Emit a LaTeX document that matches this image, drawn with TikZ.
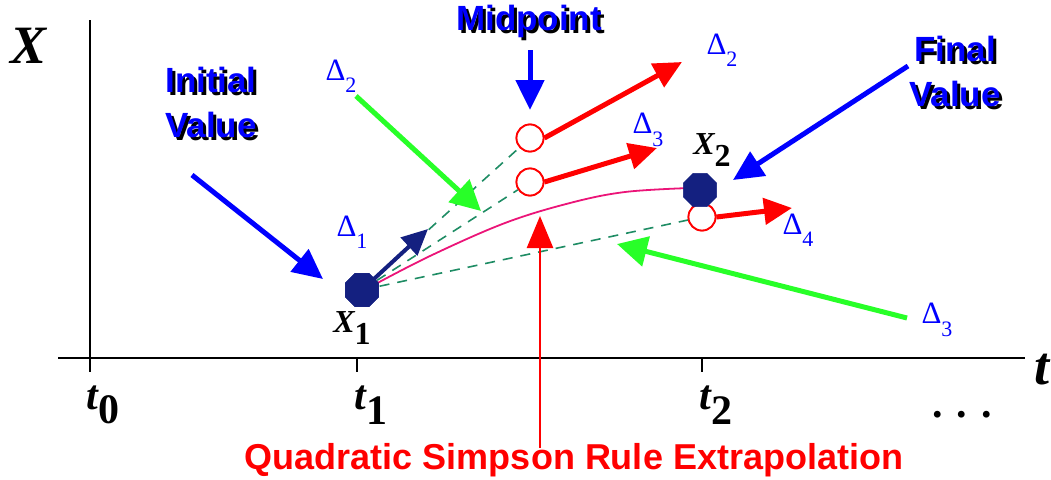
\documentclass[tikz,border=0pt]{standalone}
\usepackage{fontspec}
\setmainfont{Liberation Serif}
\newfontfamily\sansf{Liberation Sans}
\usetikzlibrary{arrows.meta,shapes.geometric}
\definecolor{dotblue}{RGB}{20,32,128}
\definecolor{dashteal}{RGB}{30,140,100}
\definecolor{curvemag}{RGB}{235,20,120}
\definecolor{brgreen}{RGB}{40,255,40}
\definecolor{brred}{RGB}{255,0,0}
\definecolor{brblue}{RGB}{0,0,255}
\newcommand{\dlt}[1]{Δ\raisebox{-0.4em}{\fontsize{22}{22}\selectfont #1}}
\newcommand{\bX}[1]{{\bfseries\itshape X}\raisebox{-0.35em}{\bfseries #1}}
\newcommand{\bt}[1]{{\bfseries\itshape t}\raisebox{-0.35em}{\bfseries #1}}
\newcommand{\shd}[1]{\rlap{\kern3pt\raisebox{-3pt}{\color{black}#1}}{\color{brblue}#1}}
\tikzset{
  axis/.style={line width=2.5pt, black},
  tick/.style={line width=1.5pt, black},
  biglbl/.style={inner sep=0pt, font=\fontsize{54}{54}\selectfont},
  tlbl/.style={inner sep=0pt, font=\fontsize{42}{42}\selectfont},
  xlbl/.style={inner sep=0pt, font=\fontsize{32}{32}\selectfont},
  dlbl/.style={inner sep=0pt, text=brblue, font=\fontsize{31}{31}\selectfont},
  mainlbl/.style={inner sep=0pt, align=center, font=\sansf\bfseries\fontsize{35}{45}\selectfont},
  dot/.style={regular polygon, regular polygon sides=8, fill=dotblue, draw=dotblue, minimum size=36pt, inner sep=0pt},
  ring/.style={circle, draw=brred, line width=1.8pt, fill=white, minimum size=27pt, inner sep=0pt},
  dsh/.style={dashteal, line width=1.6pt, dash pattern=on 10pt off 8pt},
  redarr/.style={brred, line width=5pt, -{Triangle[length=28pt,width=26pt]}},
  bluearr/.style={brblue, line width=5pt, -{Triangle[length=30pt,width=28pt]}},
  greenarr/.style={brgreen, line width=5pt, -{Triangle[length=30pt,width=30pt]}},
  navyarr/.style={dotblue, line width=4pt, -{Triangle[length=26pt,width=24pt]}},
}
\begin{document}
\begin{tikzpicture}[x=1pt,y=-1pt]
\path[use as bounding box] (0,0) rectangle (1051,479);

% axes
\coordinate (ytop) at (90,20);
\coordinate (ybot) at (90,372);
\coordinate (xleft) at (58,358);
\coordinate (xright) at (1025,358);
\draw[axis] (ytop) -- (ybot);
\draw[axis] (xleft) -- (xright);
\coordinate (t1a) at (357,358); \coordinate (t1b) at (357,372);
\coordinate (t2a) at (702,358); \coordinate (t2b) at (702,372);
\draw[tick] (t1a) -- (t1b);
\draw[tick] (t2a) -- (t2b);

\node[biglbl] (Xax) at (29,46) {{\bfseries\itshape X}};
\node[biglbl, anchor=west] (tax) at (1034,370) {{\bfseries\itshape t}};
\node[tlbl] (t0) at (103,405) {\bt{0}};
\node[tlbl] (t1) at (371,405) {\bt{1}};
\node[tlbl] (t2) at (716,405) {\bt{2}};
\node[tlbl] (dots) at (962,415) {\bfseries . . .};

% dashed chords
\node[dot] (X1) at (362,290) {};
\node[ring] (c1) at (530,138) {};
\node[ring] (c2) at (530,182) {};
\node[ring] (c3) at (702,217) {};
\draw[dsh] (X1.center) -- (c1);
\draw[dsh] (X1.center) -- (c2);
\draw[dsh] (X1.center) -- (c3);
\node[ring] at (c1) {};
\node[ring] at (c2) {};
\node[ring] at (c3) {};

% magenta curve
\draw[curvemag, line width=1.8pt] plot[smooth, tension=0.6] coordinates {(370,287) (430,256) (505,223) (570,203) (625,192) (690,188)};

\node[dot] (X2) at (700,190) {};
\node[dot] at (X1) {};

% navy delta1 arrow
\coordinate (d1tip) at (428,229);
\draw[navyarr] (X1.center) -- (d1tip);

\node[xlbl] (X1l) at (352,328) {\bX{1}};
\node[xlbl] (X2l) at (712,150) {\bX{2}};

% red arrows
\coordinate (r1tip) at (682,62);
\coordinate (r2tip) at (657,148);
\coordinate (r3tip) at (792,208);
\draw[redarr] (c1.east) -- (r1tip);
\draw[redarr] (c2.east) -- (r2tip);
\draw[redarr] (c3.east) -- (r3tip);

% delta labels
\node[dlbl] (D2r) at (722,50) {\dlt{2}};
\node[dlbl] (D3r) at (648,130) {\dlt{3}};
\node[dlbl] (D4) at (798,230) {\dlt{4}};
\node[dlbl] (D1) at (352,232) {\dlt{1}};
\node[dlbl] (D2l) at (341,76) {\dlt{2}};
\node[dlbl] (D3l) at (937,320) {\dlt{3}};

% green arrows
\coordinate (g1s) at (356,96);
\coordinate (g1e) at (481,211);
\coordinate (g2s) at (907,318);
\coordinate (g2e) at (617,244);
\draw[greenarr] (g1s) -- (g1e);
\draw[greenarr] (g2s) -- (g2e);

% blue labels and arrows
\node[mainlbl] (iv) at (211,104) {\shd{Initial}\\\shd{Value}};
\node[mainlbl] (mp) at (529,23) {\shd{Midpoint}};
\node[mainlbl] (fv) at (955,73) {\shd{Final}\\\shd{Value}};

\coordinate (b1s) at (192,175);
\coordinate (b1e) at (323,279);
\coordinate (b2s) at (530,50);
\coordinate (b2e) at (530,110);
\coordinate (b3s) at (908,66);
\coordinate (b3e) at (733,180);
\draw[bluearr] (b1s) -- (b1e);
\draw[bluearr] (b2s) -- (b2e);
\draw[bluearr] (b3s) -- (b3e);

% red vertical arrow and label
\coordinate (qs) at (540,448);
\coordinate (qe) at (540,216);
\draw[brred, line width=2.5pt, -{Triangle[length=32pt,width=26pt]}] (qs) -- (qe);
\node[inner sep=0pt, text=brred, font=\sansf\bfseries\fontsize{36}{36}\selectfont] (qlbl) at (574,460) {Quadratic Simpson Rule Extrapolation};
\end{tikzpicture}
\end{document}
